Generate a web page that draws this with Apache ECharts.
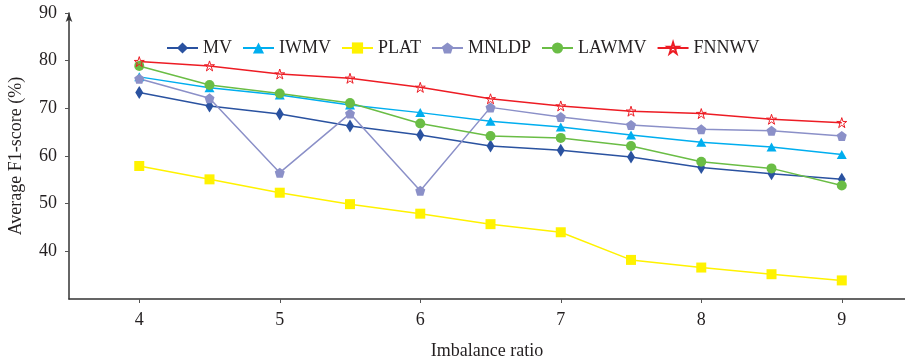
<!DOCTYPE html>
<html>
<head>
<meta charset="UTF-8">
<title>Average F1-score</title>
<script src="https://cdn.jsdelivr.net/npm/echarts@6/dist/echarts.min.js"></script>
<style>
  html, body { margin: 0; padding: 0; background: #fff; }
  #main { width: 905px; height: 363px; }
</style>
</head>
<body>
<div id="main"></div>
<script>
// imbalance ratios along the x axis
var ratios = [4, 4.5, 5, 5.5, 6, 6.5, 7, 7.5, 8, 8.5, 9];
var xTicks = [4, 5, 6, 7, 8, 9];
var yTicks = [40, 50, 60, 70, 80, 90];

// average F1-score (%) per method
var mv    = [73.3, 70.5, 68.8, 66.3, 64.4, 62.1, 61.2, 59.8, 57.6, 56.3, 55.1];
var iwmv  = [76.6, 74.3, 72.8, 70.7, 69.1, 67.3, 66.1, 64.4, 62.9, 61.9, 60.3];
var plat  = [57.9, 55.1, 52.3, 49.9, 47.9, 45.7, 44.0, 38.2, 36.6, 35.2, 33.9];
var mnldp = [76.2, 72.1, 56.5, 68.9, 52.7, 70.2, 68.2, 66.5, 65.6, 65.3, 64.2];
var lawmv = [78.9, 74.9, 73.1, 71.1, 66.8, 64.2, 63.8, 62.1, 58.8, 57.4, 53.8];
var fnnwv = [79.8, 78.9, 77.2, 76.3, 74.4, 72.0, 70.5, 69.4, 68.9, 67.7, 67.0];

var font = '"Liberation Serif", "Times New Roman", serif';
var ink = '#231f20';

var pentagon = 'path://M0,-1 L0.951,-0.309 L0.588,0.809 L-0.588,0.809 L-0.951,-0.309 Z';
var star = 'path://M0,-1 L0.225,-0.309 L0.951,-0.309 L0.363,0.118 L0.588,0.809 L0,0.382 L-0.588,0.809 L-0.363,0.118 L-0.951,-0.309 L-0.225,-0.309 Z';

function pairs(vals) {
  var out = [];
  for (var i = 0; i < ratios.length; i++) out.push([ratios[i], vals[i]]);
  return out;
}

function line(name, vals, color, symbol, size, extra) {
  var s = {
    name: name,
    type: 'line',
    data: pairs(vals),
    symbol: symbol,
    symbolSize: size,
    showAllSymbol: true,
    lineStyle: { color: color, width: 1.5 },
    itemStyle: { color: color },
    emphasis: { disabled: true }
  };
  if (extra) s.itemStyle = extra;
  return s;
}

var myChart = echarts.init(document.getElementById('main'));

var option = {
  backgroundColor: '#fff',
  animation: false,
  textStyle: { fontFamily: font, color: ink },
  legend: {
    left: 161,
    top: 34,
    itemWidth: 31,
    itemHeight: 14,
    itemGap: 10,
    textStyle: { fontFamily: font, fontSize: 18, color: ink },
    data: ['MV', 'IWMV', 'PLAT', 'MNLDP', 'LAWMV', 'FNNWV']
  },
  grid: { left: 69, right: 0, top: 13, bottom: 64, outerBoundsMode: 'none', containLabel: false },
  xAxis: {
    type: 'value',
    min: 3.5,
    max: 9.45,
    name: 'Imbalance ratio',
    nameLocation: 'middle',
    nameGap: 43,
    nameTextStyle: { fontFamily: font, fontSize: 18, color: ink },
    axisLine: { lineStyle: { color: '#333', width: 1.5 } },
    axisTick: { show: true, length: 4, customValues: xTicks, lineStyle: { color: '#555' } },
    axisLabel: { customValues: xTicks, margin: 12, fontFamily: font, fontSize: 18, color: ink },
    splitLine: { show: false }
  },
  yAxis: {
    type: 'value',
    min: 30,
    max: 90,
    interval: 10,
    name: 'Average F1-score (%)',
    nameLocation: 'middle',
    nameGap: 44,
    nameTextStyle: { fontFamily: font, fontSize: 18, color: ink },
    axisLine: { show: true, symbol: ['none', 'arrow'], symbolSize: [5, 9], lineStyle: { color: '#333', width: 1.5 } },
    axisTick: { show: true, length: 4, customValues: yTicks, lineStyle: { color: '#555' } },
    axisLabel: { customValues: yTicks, margin: 12, fontFamily: font, fontSize: 18, color: ink },
    splitLine: { show: false }
  },
  series: [
    line('MV', mv, '#2a52a0', 'diamond', [8, 13]),
    line('IWMV', iwmv, '#00aeef', 'triangle', [10, 9]),
    line('PLAT', plat, '#fff200', 'rect', 10),
    line('MNLDP', mnldp, '#8b90c8', pentagon, 10),
    line('LAWMV', lawmv, '#6abd45', 'circle', 10),
    line('FNNWV', fnnwv, '#ed1c24', star, 10,
      { color: 'rgba(255,255,255,0)', borderColor: '#ed1c24', borderWidth: 1 })
  ]
};

myChart.setOption(option);
</script>
</body>
</html>
